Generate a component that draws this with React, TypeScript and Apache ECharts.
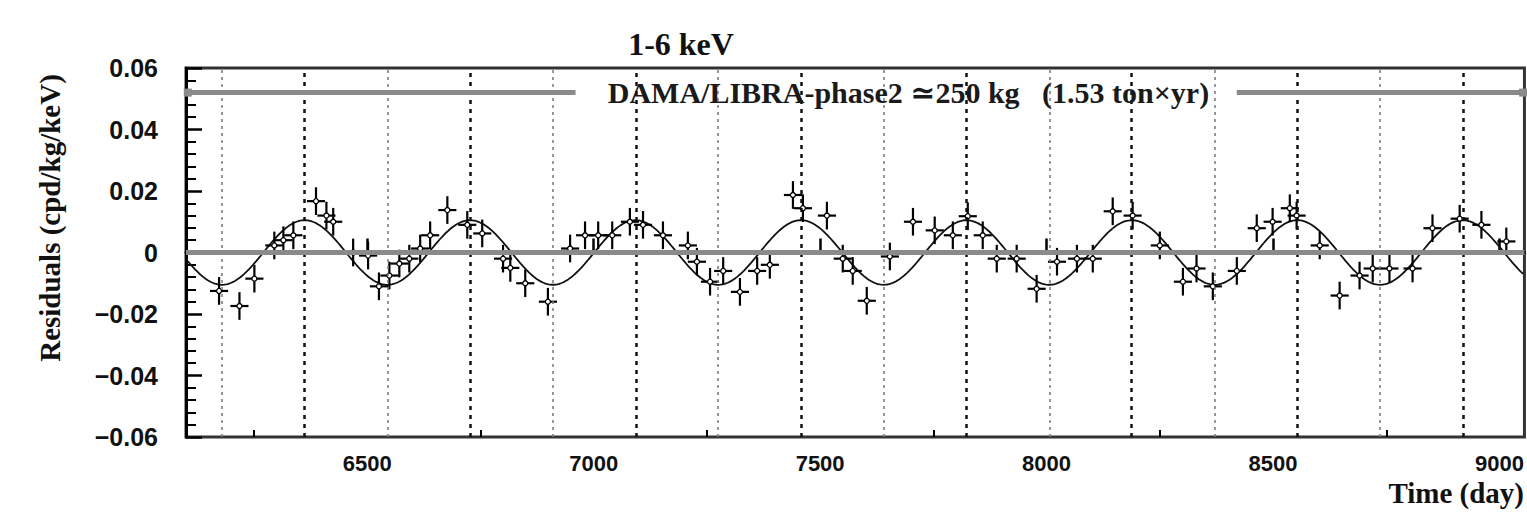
import React, { useEffect, useRef } from "react";
import * as echarts from "echarts";

// ---- data ----
const TITLE = "1-6 keV";
const Y_NAME = "Residuals (cpd/kg/keV)";
const X_NAME = "Time (day)";
const PERIOD_LABEL = "DAMA/LIBRA-phase2 \u2243250 kg   (1.53 ton\u00d7yr)";

const DAYS = [
  6173, 6218, 6251, 6295, 6315, 6337, 6387, 6410, 6425, 6469, 6502, 6526, 6549, 6571, 6593,
  6617, 6639, 6677, 6721, 6754, 6800, 6816, 6849, 6899, 6948, 6981, 7010, 7041, 7080, 7109,
  7153, 7208, 7228, 7257, 7286, 7323, 7361, 7389, 7440, 7462, 7515, 7550, 7572, 7603, 7654,
  7705, 7753, 7793, 7826, 7859, 7890, 7934, 7978, 8023, 8067, 8102, 8146, 8190, 8250, 8301,
  8331, 8367, 8420, 8464, 8499, 8537, 8552, 8603, 8647, 8691, 8720, 8757, 8808, 8852, 8912,
  8960, 9015,
];
const RESIDUALS = [
  -0.0125, -0.0174, -0.0085, 0.0023, 0.004, 0.0056, 0.0167, 0.012, 0.01, 0.0, -0.001, -0.011, -0.0075, -0.0036, -0.002,
  0.0013, 0.0056, 0.0138, 0.009, 0.0062, -0.002, -0.005, -0.01, -0.016, 0.0013, 0.0056, 0.0056, 0.0056, 0.01, 0.009,
  0.0056, 0.0023, -0.003, -0.0095, -0.006, -0.0128, -0.006, -0.004, 0.0187, 0.0144, 0.012, -0.002, -0.006, -0.0157, -0.0013,
  0.01, 0.0072, 0.0056, 0.0118, 0.0056, -0.002, -0.002, -0.0118, -0.003, -0.002, -0.002, 0.0134, 0.012, 0.0023, -0.0095,
  -0.0052, -0.011, -0.006, 0.0079, 0.01, 0.0144, 0.012, 0.0023, -0.014, -0.0075, -0.0052, -0.0052, -0.0052, 0.0079, 0.011,
  0.009, 0.0036,
];
const Y_ERR = 0.0045;
const X_ERR = 20;

// modulation fit: A cos(2pi/T (t - t0))
const FIT_AMPLITUDE = 0.0105;
const FIT_PERIOD = 365.25;
const FIT_PHASE_DAY = 6362;

// June 2 (dashed) and December 2 (dotted) of each year
const PEAK_DAYS = [6362, 6727, 7093, 7458, 7823, 8188, 8554, 8919];
const TROUGH_DAYS = [6179, 6545, 6910, 7275, 7640, 8006, 8371, 8736];

const X_MIN = 6100;
const X_MAX = 9055;
const X_TICKS = [6500, 7000, 7500, 8000, 8500, 9000];
const X_MINOR_TICKS = [6250, 6750, 7250, 7750, 8250, 8750];

const PERIOD_LINE_Y = 0.052;
const PERIOD_START = 6104;
const PERIOD_END = 9052;
const PERIOD_GAP_START = 6960;
const PERIOD_GAP_END = 8420;
const PERIOD_LABEL_X = 7695;

export default function App() {
  const ref = useRef<HTMLDivElement>(null);

  useEffect(() => {
    if (!ref.current) return;
    const chart = echarts.init(ref.current, null, { renderer: "svg" });

    const fitData: number[][] = [];
    for (let t = X_MIN; t <= X_MAX; t += 4) {
      fitData.push([t, FIT_AMPLITUDE * Math.cos((2 * Math.PI * (t - FIT_PHASE_DAY)) / FIT_PERIOD)]);
    }
    const points = DAYS.map((d, i) => [d, RESIDUALS[i]]);

    const serif = "'Liberation Serif', 'DejaVu Serif', serif";
    const sans = "'Liberation Sans', Arial, sans-serif";

    const option: any = {
      animation: false,
      backgroundColor: "#fff",
      grid: {
        left: 186,
        right: 2,
        top: 68,
        bottom: 75,
        show: true,
        borderColor: "#333",
        borderWidth: 3,
        backgroundColor: "transparent",
      },
      xAxis: [
        {
          type: "value",
          min: X_MIN,
          max: X_MAX,
          position: "bottom",
          axisLine: { show: true, lineStyle: { color: "#000", width: 3 } },
          axisTick: {
            show: true,
            inside: true,
            length: 14,
            customValues: X_TICKS,
            lineStyle: { color: "#000", width: 2.5 },
          },
          axisLabel: {
            show: true,
            customValues: X_TICKS,
            margin: 15,
            color: "#111",
            fontFamily: sans,
            fontWeight: "bold",
            fontSize: 22,
            formatter: (v: number) => String(Math.round(v)),
          },
          splitLine: { show: false },
        },
        {
          type: "value",
          min: X_MIN,
          max: X_MAX,
          position: "bottom",
          axisLine: { show: false },
          axisTick: {
            show: true,
            inside: true,
            length: 7,
            customValues: X_MINOR_TICKS,
            lineStyle: { color: "#000", width: 2 },
          },
          axisLabel: { show: false },
          splitLine: { show: false },
        },
      ],
      yAxis: {
        type: "value",
        min: -0.06,
        max: 0.06,
        interval: 0.02,
        axisLine: { show: true, lineStyle: { color: "#000", width: 3 } },
        axisTick: { show: true, inside: true, length: 16, lineStyle: { color: "#000", width: 2.5 } },
        minorTick: { show: true, splitNumber: 5, length: 10, lineStyle: { color: "#000", width: 2 } },
        axisLabel: {
          margin: 28,
          color: "#111",
          fontFamily: sans,
          fontWeight: "bold",
          fontSize: 25,
          formatter: (v: number) => {
            const r = Math.round(v * 100) / 100;
            if (r === 0) return "0";
            return r < 0 ? "\u2212" + Math.abs(r).toFixed(2) : r.toFixed(2);
          },
        },
        splitLine: { show: false },
      },
      graphic: [
        {
          type: "text",
          x: 681,
          y: 44,
          style: {
            text: TITLE,
            fontFamily: serif,
            fontWeight: "bold",
            fontSize: 32,
            fill: "#111",
            textAlign: "center",
            textVerticalAlign: "middle",
          },
        },
        {
          type: "text",
          x: 50,
          y: 218,
          rotation: Math.PI / 2,
          style: {
            text: Y_NAME,
            fontFamily: serif,
            fontWeight: "bold",
            fontSize: 29,
            fill: "#111",
            textAlign: "center",
            textVerticalAlign: "middle",
          },
        },
        {
          type: "text",
          x: 1524,
          y: 493,
          style: {
            text: X_NAME,
            fontFamily: serif,
            fontWeight: "bold",
            fontSize: 29,
            fill: "#111",
            textAlign: "right",
            textVerticalAlign: "middle",
          },
        },
      ],
      series: [
        {
          type: "line",
          data: [],
          silent: true,
          z: 1,
          markLine: {
            silent: true,
            symbol: ["none", "none"],
            label: { show: false },
            animation: false,
            data: [
              ...TROUGH_DAYS.map((d) => ({
                xAxis: d,
                lineStyle: { color: "#777", width: 1.5, type: [3, 4] },
              })),
              ...PEAK_DAYS.map((d) => ({
                xAxis: d,
                lineStyle: { color: "#111", width: 2.5, type: [4, 5] },
              })),
              { yAxis: 0, lineStyle: { color: "#8a8a8a", width: 5, type: "solid" } },
              [
                { coord: [PERIOD_START, PERIOD_LINE_Y], symbol: "rect", symbolSize: 8 },
                { coord: [PERIOD_GAP_START, PERIOD_LINE_Y], symbol: "none" },
              ].map((p: any) => ({ ...p, lineStyle: { color: "#8a8a8a", width: 5, type: "solid" }, itemStyle: { color: "#222" } })),
              [
                { coord: [PERIOD_GAP_END, PERIOD_LINE_Y], symbol: "none" },
                { coord: [PERIOD_END, PERIOD_LINE_Y], symbol: "rect", symbolSize: 8 },
              ].map((p: any) => ({ ...p, lineStyle: { color: "#8a8a8a", width: 5, type: "solid" }, itemStyle: { color: "#222" } })),
            ],
          },
        },
        {
          type: "line",
          data: fitData,
          showSymbol: false,
          symbol: "none",
          silent: true,
          z: 3,
          lineStyle: { color: "#111", width: 1.8 },
        },
        {
          type: "custom",
          data: points,
          z: 4,
          encode: { x: 0, y: 1 },
          renderItem: (_params: any, api: any) => {
            const x = api.value(0);
            const y = api.value(1);
            const c = api.coord([x, y]);
            const top = api.coord([x, y + Y_ERR]);
            const bot = api.coord([x, y - Y_ERR]);
            const l = api.coord([x - X_ERR, y]);
            const r = api.coord([x + X_ERR, y]);
            return {
              type: "group",
              children: [
                {
                  type: "line",
                  shape: { x1: c[0], y1: top[1], x2: c[0], y2: bot[1] },
                  style: { stroke: "#000", lineWidth: 2.2 },
                },
                {
                  type: "line",
                  shape: { x1: l[0], y1: c[1], x2: r[0], y2: c[1] },
                  style: { stroke: "#000", lineWidth: 2.2 },
                },
                {
                  type: "circle",
                  shape: { cx: c[0], cy: c[1], r: 2.5 },
                  style: { fill: "#fff", stroke: "#000", lineWidth: 1.3 },
                },
              ],
            };
          },
        },
        {
          type: "scatter",
          data: [[PERIOD_LABEL_X, PERIOD_LINE_Y]],
          symbolSize: 0,
          silent: true,
          z: 5,
          itemStyle: { color: "#fff", opacity: 1 },
          label: {
            show: true,
            position: "inside",
            formatter: PERIOD_LABEL,
            fontFamily: serif,
            fontWeight: "bold",
            fontSize: 30,
            color: "#1a1a1a",
            textBorderWidth: 0,
            opacity: 1,
          },
        },
      ],
    };

    chart.setOption(option);
    return () => chart.dispose();
  }, []);

  return (
    <div
      ref={ref}
      style={{ position: "fixed", left: 0, top: 0, width: 1527, height: 512, background: "#fff" }}
    />
  );
}
